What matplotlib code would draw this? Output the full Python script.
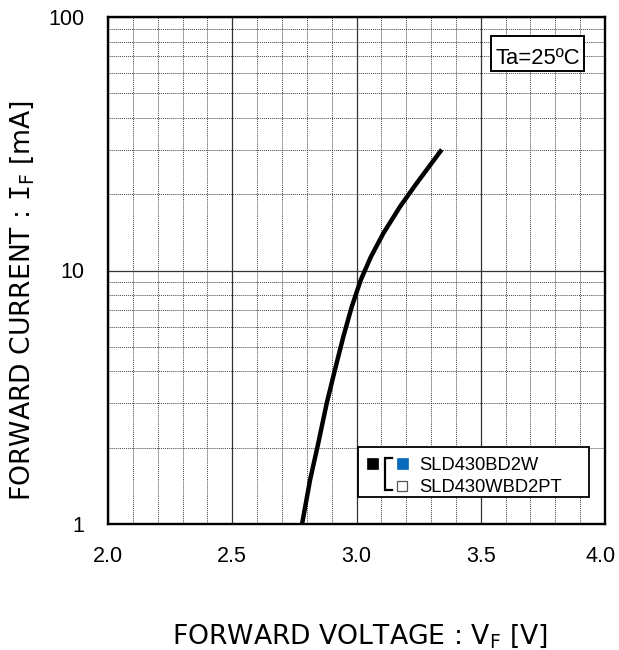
import matplotlib
matplotlib.use("Agg")
import matplotlib.pyplot as plt
from matplotlib.patches import Rectangle
from matplotlib.ticker import FixedLocator, NullFormatter
from matplotlib.transforms import ScaledTranslation

plt.rcParams['font.family'] = ['Liberation Sans', 'DejaVu Sans']
plt.rcParams['mathtext.fontset'] = 'custom'
plt.rcParams['mathtext.rm'] = 'DejaVu Sans'
plt.rcParams['mathtext.it'] = 'DejaVu Sans'
plt.rcParams['mathtext.tt'] = 'DejaVu Sans Mono'

# Data
voltage = [2.781, 2.813, 2.846, 2.880, 2.913, 2.947, 2.981, 3.017, 3.058,
           3.108, 3.175, 3.242, 3.343]
current = [1.0, 1.49, 2.08, 2.99, 4.05, 5.48, 7.20, 9.17, 11.33,
           14.02, 17.85, 22.08, 30.0]
x_ticks = [2.0, 2.5, 3.0, 3.5, 4.0]
x_tick_labels = ["2.0", "2.5", "3.0", "3.5", "4.0"]
y_ticks = [1, 10, 100]
y_tick_labels = ["1", "10", "100"]
legend_labels = ["SLD430BD2W", "SLD430WBD2PT"]
temp_label = "Ta=25ºC"
x_label = r'FORWARD VOLTAGE : V$\mathregular{_F}$ [V]'
y_label = r'FORWARD CURRENT : $\mathtt{I}\mathregular{_F}$ [mA]'

W, H = 619, 650
fig = plt.figure(figsize=(W / 100, H / 100), dpi=100)
L, R, T, B = 108, 605, 17, 524
ax = fig.add_axes([L / W, 1 - B / H, (R - L) / W, (B - T) / H])

ax.set_xlim(2.0, 4.0)
ax.set_yscale('log')
ax.set_ylim(1, 100)

ax.xaxis.set_major_locator(FixedLocator(x_ticks))
ax.set_xticklabels(x_tick_labels)
ax.xaxis.set_minor_locator(FixedLocator([2.0 + 0.1 * i for i in range(21)]))
ax.yaxis.set_major_locator(FixedLocator(y_ticks))
ax.set_yticklabels(y_tick_labels)
minor_y = [m * d for d in (1, 10) for m in range(2, 10)]
ax.yaxis.set_minor_locator(FixedLocator(minor_y))
ax.yaxis.set_minor_formatter(NullFormatter())

ax.grid(which='minor', color='#444444', linestyle=(0, (1, 1)), linewidth=0.7)
ax.grid(which='major', color='#333333', linestyle='-', linewidth=0.9)
ax.tick_params(which='both', length=0)
ax.tick_params(axis='x', which='major', labelsize=15.5, pad=16)
ax.tick_params(axis='y', which='major', labelsize=15.5, pad=17)
for s in ax.spines.values():
    s.set_linewidth(1.7)
    s.set_color('black')
    s.set_zorder(5)

# keep the last x tick label inside the figure, as in the reference
last = ax.get_xticklabels()[-1]
last.set_transform(last.get_transform() + ScaledTranslation(-4 / 100, 0, fig.dpi_scale_trans))

ax.plot(voltage, current, color='black', linewidth=3.2, solid_capstyle='butt',
        solid_joinstyle='round', zorder=4)


def px(x, y):
    return ((x - L) / (R - L), (B - y) / (B - T))


def box(xl, yt, xr, yb, lw):
    a, b = px(xl, yb)
    c, d = px(xr, yt)
    ax.add_patch(Rectangle((a, b), c - a, d - b, transform=ax.transAxes,
                           facecolor='white', edgecolor='black', linewidth=lw, zorder=6))


# Temperature box
box(491, 36, 584, 71, 1.4)
tx, ty = px(537.5, 64)
ax.text(tx, ty, temp_label, transform=ax.transAxes, ha='center', va='baseline',
        fontsize=15.8, zorder=7)

# Legend box (custom)
box(358, 447, 589, 497, 1.3)


def sq(xl, yt, size, fc, ec, lw):
    a, b = px(xl, yt + size)
    c, d = px(xl + size, yt)
    ax.add_patch(Rectangle((a, b), c - a, d - b, transform=ax.transAxes,
                           facecolor=fc, edgecolor=ec, linewidth=lw, zorder=7))


sq(367, 458, 11, 'black', 'black', 0.5)
sq(397, 458, 11, '#0a6bbd', '#0a6bbd', 0.5)
sq(397, 481, 10, 'white', '#555555', 0.9)

# bracket
bx0, by0 = px(385, 458)
bx1, by1 = px(392, 490)
ax.plot([bx1, bx0, bx0, bx1], [by0, by0, by1, by1], transform=ax.transAxes,
        color='black', linewidth=1.6, zorder=7, solid_joinstyle='miter')

lx, ly1 = px(419, 470)
_, ly2 = px(419, 492)
ax.text(lx, ly1, legend_labels[0], transform=ax.transAxes, ha='left', va='baseline',
        fontsize=13.2, zorder=8)
ax.text(lx, ly2, legend_labels[1], transform=ax.transAxes, ha='left', va='baseline',
        fontsize=13.2, zorder=8)

# Axis labels
fig.text(360 / W, 1 - 643 / H, x_label, ha='center', va='baseline',
         fontsize=19.2, family=['DejaVu Sans'])
fig.text(30 / W, 1 - 300 / H, y_label, ha='center', va='baseline', rotation=90,
         rotation_mode='anchor', fontsize=19.2, family=['DejaVu Sans'])

fig.savefig('out.png', dpi=100, facecolor='white')
